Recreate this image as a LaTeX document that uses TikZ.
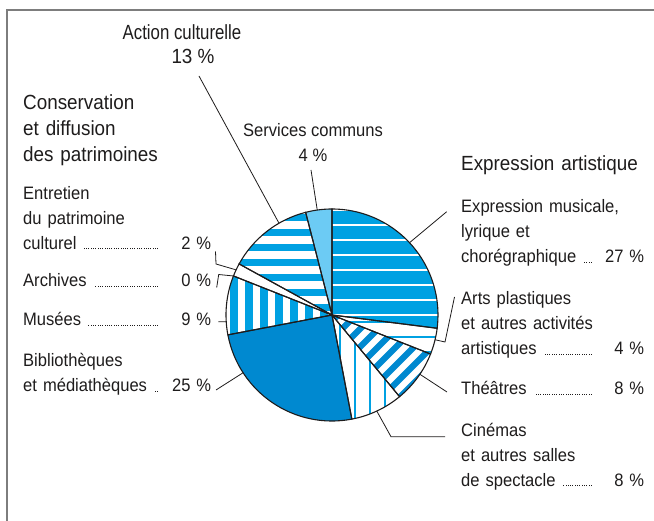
\documentclass[tikz,border=0pt]{standalone}
\usepackage{fontspec}
\setmainfont{Liberation Sans}[FakeStretch=0.92]
\newfontfamily\narrowfont{Liberation Sans}[FakeStretch=0.82]
\usetikzlibrary{calc}

\definecolor{cblue}{RGB}{0,161,226}
\definecolor{cdark}{RGB}{0,137,208}
\definecolor{clight}{RGB}{108,203,244}
\definecolor{cframe}{RGB}{125,125,125}
\definecolor{ctext}{RGB}{30,28,28}

\newcommand\itemfont{\fontsize{18}{24.8}\selectfont}
\newcommand\headfont{\fontsize{20.5}{26}\selectfont}
\newcommand\dotlead{\hspace{6pt}\leaders\hbox to 2.3pt{\hss\rule{0.7pt}{0.7pt}\hss}\hskip 0pt plus 1fill}
\newcommand\pct[1]{\hbox to 50pt{\hfill #1}}

\tikzset{
  lbl/.style={anchor=base west, inner sep=0pt, align=left, text width=#1,
    font=\itemfont, text=ctext},
  lbl/.default=188pt,
  head/.style={anchor=base west, inner sep=0pt, align=left, text width=#1,
    font=\headfont, text=ctext},
  head/.default=200pt,
  title/.style={anchor=base, inner sep=0pt, font=\headfont, text=ctext},
  txt/.style={anchor=base, inner sep=0pt, font=\itemfont, text=ctext},
  lead/.style={draw=ctext, line width=0.8pt},
  slice/.style={draw=ctext, line width=1.1pt},
}

\begin{document}
\begin{tikzpicture}[x=1pt, y=-1pt]
  \useasboundingbox (0,0) rectangle (654,521);

  % Frame
  \draw[cframe, line width=1.8pt] (6.8,521) -- (6.8,9.8) -- (654,9.8);

  % Pie
  \begin{scope}[shift={(332,315)}, yscale=-1]

    % Expression musicale
    \begin{scope}
      \clip (0,0) -- (90:106) arc[start angle=90, end angle=-7.2, radius=106] -- cycle;
      \fill[cblue] (-110,-110) rectangle (110,110);
      \foreach \y in {-15,0,...,105}
        \draw[white, line width=1.5pt] (-110,\y) -- (110,\y);
    \end{scope}

    % Arts plastiques
    \begin{scope}
      \clip (0,0) -- (-7.2:106) arc[start angle=-7.2, end angle=-21.6, radius=106] -- cycle;
      \foreach \y in {-7,-22,-37}
        \draw[cblue, line width=1.6pt] (-110,\y) -- (110,\y);
    \end{scope}

    % Theatres
    \begin{scope}
      \clip (0,0) -- (-21.6:106) arc[start angle=-21.6, end angle=-50.4, radius=106] -- cycle;
      \foreach \s in {-240,-222,...,130}
        \draw[cdark, line width=6.2pt] (\s,-120) -- ++(240,240);
    \end{scope}

    % Cinemas
    \begin{scope}
      \clip (0,0) -- (-50.4:106) arc[start angle=-50.4, end angle=-79.2, radius=106] -- cycle;
      \foreach \x in {-7,8,...,68}
        \draw[cblue, line width=1.8pt] (\x,-110) -- (\x,0);
    \end{scope}

    % Bibliotheques
    \fill[cdark] (0,0) -- (-79.2:106) arc[start angle=-79.2, end angle=-169.2, radius=106] -- cycle;

    % Musees
    \begin{scope}
      \clip (0,0) -- (190.8:106) arc[start angle=190.8, end angle=158.4, radius=106] -- cycle;
      \foreach \x in {-8,-23,...,-113}
        \fill[cblue] (\x-3.8,-60) rectangle (\x+3.8,60);
    \end{scope}

    % Action culturelle
    \begin{scope}
      \clip (0,0) -- (151.2:106) arc[start angle=151.2, end angle=104.4, radius=106] -- cycle;
      \foreach \y in {7.5,22.5,...,112.5}
        \fill[cblue] (-110,\y-3.8) rectangle (10,\y+3.8);
    \end{scope}

    % Services communs
    \fill[clight] (0,0) -- (104.4:106) arc[start angle=104.4, end angle=90, radius=106] -- cycle;

    % Outlines
    \foreach \a/\b in {90/-7.2, -7.2/-21.6, -21.6/-50.4, -50.4/-79.2, -79.2/-169.2,
        -169.2/-201.6, -201.6/-208.8, -208.8/-255.6, -255.6/-270}
      \draw[slice] (0,0) -- (\a:106) arc[start angle=\a, end angle=\b, radius=106] -- cycle;

    % Leader ends on the pie
    \coordinate (p-act)  at (120:106);
    \coordinate (p-serv) at (98:106);
    \coordinate (p-musi) at (43:106);
    \coordinate (p-arts) at (-13.5:106);
    \coordinate (p-thea) at (-34:106);
    \coordinate (p-cine) at (-65:106);
    \coordinate (p-bibl) at (-147:106);
    \coordinate (p-muse) at (183.6:106);
    \coordinate (p-entr) at (154.8:106);
    \coordinate (p-arch) at (158.4:106);
  \end{scope}

  % Headings
  \node[head] (cons) at (23,110) {Conservation\\et diffusion\\des patrimoines};
  \node[head] (expr) at (461,170.5) {Expression artistique};
  \node[title, font=\headfont\narrowfont] (act) at (182,39.5) {Action culturelle};
  \node[title] (act13) at (193,64) {13 \%};

  % Left labels
  \node[lbl] (entr) at (23,199.5) {Entretien\\du patrimoine\\culturel\dotlead\pct{2 \%}};
  \node[lbl] (arch) at (23,287)   {Archives\dotlead\pct{0 \%}};
  \node[lbl] (muse) at (23,326)   {Musées\dotlead\pct{9 \%}};
  \node[lbl] (bibl) at (23,366.5) {Bibliothèques\\et médiathèques\dotlead\pct{25 \%}};

  % Right labels
  \node[lbl=183pt] (musi) at (461,213) {Expression musicale,\\lyrique et\\chorégraphique\dotlead\pct{27 \%}};
  \node[lbl=183pt] (arts) at (461,305) {Arts plastiques\\et autres activités\\artistiques\dotlead\pct{4 \%}};
  \node[lbl=183pt] (thea) at (461,395) {Théâtres\dotlead\pct{8 \%}};
  \node[lbl=183pt] (cine) at (461,436.5) {Cinémas\\et autres salles\\de spectacle\dotlead\pct{8 \%}};

  % Services communs
  \node[txt] (serv)  at (313,137) {Services communs};
  \node[txt] (serv4) at (313,162) {4 \%};

  % Free ends and bends of the leaders
  \coordinate (e-act)  at (199,76);
  \coordinate (e-serv) at (311,170);
  \coordinate (e-musi) at (446.7,211.7);
  \coordinate (b-arts) at (445,342);
  \coordinate (e-arts) at (454.5,297);
  \coordinate (e-thea) at (447,392);
  \coordinate (b-cine) at (391,436.7);
  \coordinate (e-cine) at (445,436.7);
  \coordinate (e-bibl) at (216,390);
  \coordinate (e-muse) at (218.3,321.7);
  \coordinate (b-entr) at (216,264);
  \coordinate (e-entr) at (215.5,251.5);
  \coordinate (b-arch) at (218.7,274.5);
  \coordinate (e-arch) at (216.7,287.5);

  % Leaders
  \draw[lead] (p-act) -- (e-act);
  \draw[lead] (p-serv) -- (e-serv);
  \draw[lead] (p-musi) -- (e-musi);
  \draw[lead] (p-arts) -- (b-arts) -- (e-arts);
  \draw[lead] (p-thea) -- (e-thea);
  \draw[lead] (p-cine) -- (b-cine) -- (e-cine);
  \draw[lead] (p-bibl) -- (e-bibl);
  \draw[lead] (p-muse) -- (e-muse);
  \draw[lead] (p-entr) -- (b-entr) -- (e-entr);
  \draw[lead] (p-arch) -- (b-arch) -- (e-arch);

\end{tikzpicture}
\end{document}
